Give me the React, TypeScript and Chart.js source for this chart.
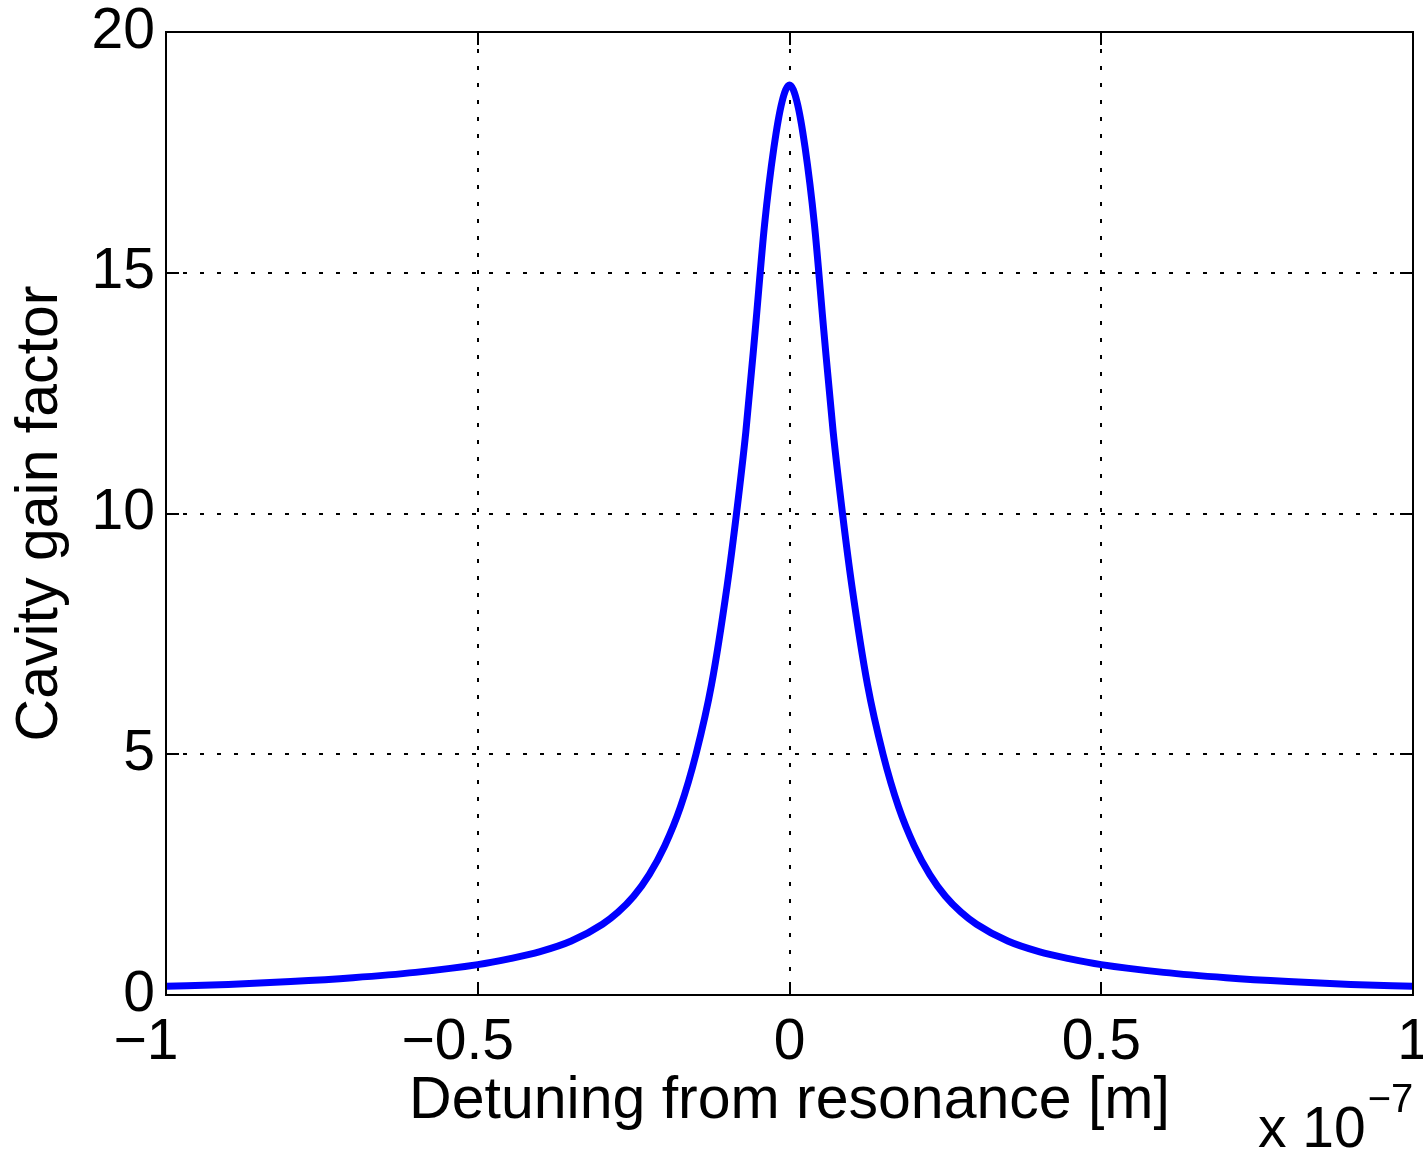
import React, { useEffect, useRef } from "react";
import { Chart, registerables } from "chart.js";

Chart.register(...registerables);

// Detuning from resonance (units of 1e-7 m)
const detuning = [
  -1, -0.9, -0.8, -0.7, -0.6, -0.5, -0.45, -0.4, -0.35, -0.3, -0.275, -0.25, -0.225, -0.2, -0.175, -0.15,
  -0.125, -0.1, -0.085, -0.07, -0.055, -0.04, -0.025, -0.012, 0, 0.012, 0.025, 0.04, 0.055, 0.07, 0.085,
  0.1, 0.125, 0.15, 0.175, 0.2, 0.225, 0.25, 0.275, 0.3, 0.35, 0.4, 0.45, 0.5, 0.6, 0.7, 0.8, 0.9, 1,
];
// Cavity gain factor
const gain = [
  0.18, 0.22, 0.28, 0.36, 0.47, 0.63, 0.75, 0.9, 1.12, 1.47, 1.72, 2.05, 2.5, 3.1, 3.9, 5.0,
  6.45, 8.5, 10.0, 11.7, 13.8, 16.0, 17.6, 18.55, 18.9, 18.55, 17.6, 16.0, 13.8, 11.7, 10.0,
  8.5, 6.45, 5.0, 3.9, 3.1, 2.5, 2.05, 1.72, 1.47, 1.12, 0.9, 0.75, 0.63, 0.47, 0.36, 0.28, 0.22, 0.18,
];

const xTicks = [-1, -0.5, 0, 0.5, 1];
const yTicks = [0, 5, 10, 15, 20];
const xTitle = "Detuning from resonance [m]";
const yTitle = "Cavity gain factor";
const exponentBase = "x 10";
const exponentPower = "\u22127";

const FONT = '"Liberation Sans", Arial, Helvetica, sans-serif';
const FS = 57;
const FT = 59;

function fmtTick(v: number): string {
  if (v < 0) return "\u2212" + String(-v) + "\u2002\u2009";
  return String(v);
}

const framePlugin = {
  id: "matlabFrame",
  afterDatasetsDraw(chart: any) {
    const { ctx, chartArea, scales } = chart;
    const { left, right, top, bottom } = chartArea;
    ctx.save();
    ctx.strokeStyle = "#000";
    ctx.lineWidth = 2;
    ctx.setLineDash([]);
    ctx.strokeRect(left, top, right - left, bottom - top);
    const L = 13;
    ctx.beginPath();
    for (const v of xTicks) {
      const px = Math.round(scales.x.getPixelForValue(v));
      ctx.moveTo(px, bottom);
      ctx.lineTo(px, bottom - L);
      ctx.moveTo(px, top);
      ctx.lineTo(px, top + L);
    }
    for (const v of yTicks) {
      const py = Math.round(scales.y.getPixelForValue(v));
      ctx.moveTo(left, py);
      ctx.lineTo(left + L, py);
      ctx.moveTo(right, py);
      ctx.lineTo(right - L, py);
    }
    ctx.stroke();

    ctx.fillStyle = "#000";
    ctx.textAlign = "left";
    ctx.textBaseline = "alphabetic";
    ctx.font = `${FS}px ${FONT}`;
    const bx = right - 155;
    const by = bottom + 152;
    ctx.fillText(exponentBase, bx, by);
    const w = ctx.measureText(exponentBase).width;
    ctx.font = `40px ${FONT}`;
    ctx.fillText(exponentPower, bx + w + 2, by - 35);
    ctx.restore();
  },
};

export default function App() {
  const canvasRef = useRef<HTMLCanvasElement | null>(null);

  useEffect(() => {
    const canvas = canvasRef.current;
    if (!canvas) return;
    Chart.defaults.font.family = FONT;
    Chart.defaults.color = "#000";
    const points = detuning.map((x, i) => ({ x, y: gain[i] }));
    const chart = new Chart(canvas, {
      type: "scatter",
      data: {
        datasets: [
          {
            data: points,
            showLine: true,
            borderColor: "#0000ff",
            backgroundColor: "#0000ff",
            borderWidth: 7,
            pointRadius: 0,
            cubicInterpolationMode: "monotone",
            borderCapStyle: "round",
            borderJoinStyle: "round",
          } as any,
        ],
      },
      options: {
        responsive: false,
        animation: false,
        events: [],
        layout: { padding: { top: 32, right: 10, left: 0, bottom: 0 } },
        plugins: { legend: { display: false }, tooltip: { enabled: false } },
        scales: {
          x: {
            type: "linear",
            min: -1,
            max: 1,
            afterFit: (s: any) => {
              s.height = 1157 - 995;
              s.paddingLeft = 0;
              s.paddingRight = 0;
            },
            afterBuildTicks: (s: any) => {
              s.ticks = xTicks.map((v) => ({ value: v }));
            },
            ticks: {
              autoSkip: false,
              maxRotation: 0,
              padding: 14,
              color: "#000",
              font: { size: FS, family: FONT },
              callback: (v: any) => fmtTick(Number(v)),
            },
            grid: { color: "#000", lineWidth: 2, drawTicks: false },
            border: { display: false, dash: [4, 13] },
            title: {
              display: true,
              text: xTitle,
              color: "#000",
              font: { size: FT, family: FONT },
              padding: { top: 0, bottom: 20 },
            },
          },
          y: {
            type: "linear",
            min: 0,
            max: 20,
            afterFit: (s: any) => {
              s.width = 166;
              s.paddingTop = 0;
              s.paddingBottom = 0;
            },
            afterBuildTicks: (s: any) => {
              s.ticks = yTicks.map((v) => ({ value: v }));
            },
            ticks: {
              autoSkip: false,
              padding: 11,
              color: "#000",
              font: { size: FS, family: FONT },
              callback: (v: any) => String(v),
            },
            grid: { color: "#000", lineWidth: 2, drawTicks: false },
            border: { display: false, dash: [4, 13] },
            title: {
              display: true,
              text: yTitle,
              color: "#000",
              font: { size: FT, family: FONT },
              padding: { top: 5, bottom: 0 },
            },
          },
        },
      } as any,
      plugins: [framePlugin],
    });
    return () => chart.destroy();
  }, []);

  return (
    <div style={{ position: "absolute", left: 0, top: 0, width: 1423, height: 1157, background: "#fff" }}>
      <canvas ref={canvasRef} width={1423} height={1157} style={{ display: "block" }} />
    </div>
  );
}
